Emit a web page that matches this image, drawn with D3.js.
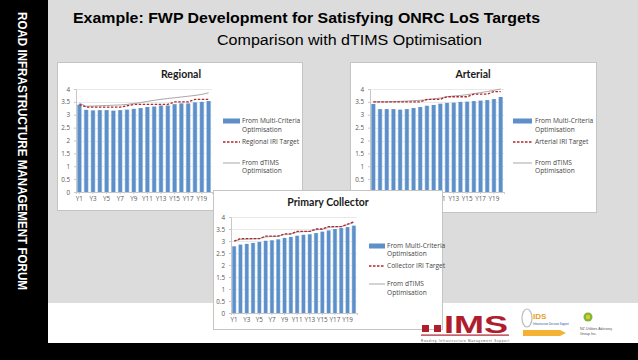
<!DOCTYPE html>
<html><head><meta charset="utf-8">
<script src="https://cdn.jsdelivr.net/npm/d3@7"></script>
<style>body{margin:0;padding:0;background:#000;}svg{display:block;}</style>
</head><body>
<script>
// ---- data ----
const years = d3.range(1, 21).map(i => "Y" + i);
const yTicks = [0, 0.5, 1, 1.5, 2, 2.5, 3, 3.5, 4];
const tickLabels = ["0", "0.5", "1", "1.5", "2", "2.5", "3", "3.5", "4"];

const regionalBars   = [3.39,3.19,3.17,3.18,3.18,3.16,3.18,3.2,3.23,3.26,3.3,3.32,3.36,3.36,3.41,3.44,3.44,3.48,3.5,3.53];
const regionalTarget = [3.4,3.3,3.3,3.3,3.3,3.3,3.3,3.35,3.4,3.4,3.4,3.4,3.4,3.4,3.5,3.5,3.5,3.6,3.6,3.6];
const regionalDtims  = [3.45,3.33,3.34,3.35,3.36,3.37,3.38,3.4,3.44,3.47,3.52,3.56,3.6,3.63,3.66,3.69,3.72,3.75,3.79,3.85];

const arterialBars   = [3.42,3.22,3.22,3.22,3.2,3.22,3.26,3.3,3.35,3.38,3.43,3.46,3.47,3.5,3.51,3.53,3.55,3.57,3.61,3.69];
const arterialTarget = [3.5,3.5,3.5,3.5,3.5,3.5,3.5,3.5,3.6,3.6,3.6,3.7,3.7,3.7,3.7,3.8,3.8,3.8,3.9,3.9];
const arterialDtims  = [3.5,3.5,3.5,3.51,3.52,3.53,3.55,3.56,3.58,3.62,3.65,3.7,3.73,3.75,3.78,3.82,3.86,3.9,3.95,4.0];

const collectorBars   = [2.78,2.85,2.88,2.92,2.96,3.01,3.03,3.07,3.13,3.17,3.22,3.26,3.28,3.33,3.39,3.44,3.5,3.54,3.58,3.64];
const collectorTarget = [3.0,3.1,3.1,3.1,3.1,3.2,3.2,3.2,3.3,3.3,3.4,3.4,3.4,3.5,3.5,3.6,3.6,3.6,3.7,3.8];
const collectorDtims  = [2.98,3.07,3.08,3.09,3.1,3.17,3.19,3.2,3.27,3.29,3.37,3.39,3.4,3.47,3.49,3.57,3.59,3.6,3.68,3.77];

const legendBars = "From Multi-Criteria";
const legendDtims = "From dTIMS";
const legendOpt = "Optimisation";

// ---- drawing ----
const W = 638, H = 360;
const svg = d3.select("body").append("svg").attr("width", W).attr("height", H);

// slide background
svg.append("rect").attr("x",0).attr("y",0).attr("width",W).attr("height",H).attr("fill","#000");
svg.append("rect").attr("x",48).attr("y",0).attr("width",W-48).attr("height",303).attr("fill","#dcdcdc");
svg.append("rect").attr("x",48).attr("y",303).attr("width",W-48).attr("height",40).attr("fill","#ffffff");

// vertical side text
svg.append("text")
  .attr("transform","translate(17.5,12) rotate(90)")
  .attr("font-family","'Liberation Sans Narrow','Liberation Sans',sans-serif")
  .attr("font-weight","bold").attr("font-size",12.5).attr("fill","#fff")
  .attr("textLength",278).attr("lengthAdjust","spacingAndGlyphs")
  .text("ROAD INFRASTRUCTURE MANAGEMENT FORUM");

// titles
svg.append("text").attr("x",73).attr("y",23)
  .attr("font-family","'Liberation Sans',Arial,sans-serif").attr("font-weight","bold")
  .attr("font-size",15).attr("fill","#000")
  .attr("textLength",467).attr("lengthAdjust","spacingAndGlyphs")
  .text("Example: FWP Development for Satisfying ONRC LoS Targets");
svg.append("text").attr("x",217).attr("y",45)
  .attr("font-family","'Liberation Sans',Arial,sans-serif")
  .attr("font-size",14).attr("fill","#000")
  .attr("textLength",265).attr("lengthAdjust","spacingAndGlyphs")
  .text("Comparison with dTIMS Optimisation");

// bar gradient
const defs = svg.append("defs");
const grad = defs.append("linearGradient").attr("id","barGrad").attr("x1","0%").attr("x2","100%").attr("y1","0%").attr("y2","0%");
grad.append("stop").attr("offset","0%").attr("stop-color","#b9d2ee");
grad.append("stop").attr("offset","25%").attr("stop-color","#5d8fc8");
grad.append("stop").attr("offset","75%").attr("stop-color","#5d8fc8");
grad.append("stop").attr("offset","100%").attr("stop-color","#b9d2ee");

function drawChart(cfg) {
  const g = svg.append("g");
  g.append("rect").attr("x",cfg.box[0]+0.5).attr("y",cfg.box[1]+0.5)
    .attr("width",cfg.box[2]-cfg.box[0]).attr("height",cfg.box[3]-cfg.box[1])
    .attr("fill","#fff").attr("stroke","#c4c4c4");
  g.append("text").attr("x",cfg.titleX).attr("y",cfg.titleY)
    .attr("text-anchor","middle").attr("font-family","Lato,'Open Sans',sans-serif")
    .attr("font-weight","bold").attr("font-size",10.5).attr("fill","#1a1a1a").text(cfg.title);

  const x = d3.scaleBand().domain(years).range([cfg.px0, cfg.px1]).paddingInner(0.3).paddingOuter(0.15);
  const y = d3.scaleLinear().domain([0,4]).range([cfg.py0, cfg.py4]);

  // gridlines
  g.append("g").selectAll("line").data(yTicks.slice(1)).join("line")
    .attr("x1",cfg.px0).attr("x2",cfg.px1).attr("y1",d=>Math.round(y(d))+0.5).attr("y2",d=>Math.round(y(d))+0.5)
    .attr("stroke","#e3e3e3").attr("stroke-width",0.8);

  // axes
  const yAxis = d3.axisLeft(y).tickValues(yTicks).tickFormat((d,i)=>tickLabels[i]).tickSize(2).tickPadding(4);
  const ya = g.append("g").attr("transform",`translate(${cfg.px0},0)`).call(yAxis);
  ya.select(".domain").attr("stroke","#c8c8c8");
  ya.selectAll(".tick line").attr("stroke","#c8c8c8");
  ya.selectAll("text").attr("font-family","'Open Sans',sans-serif").attr("font-size",6.3).attr("fill","#555");

  const xAxis = d3.axisBottom(x).tickValues(years.filter((d,i)=>i%2===0)).tickSize(2).tickPadding(3);
  const xa = g.append("g").attr("transform",`translate(0,${cfg.py0})`).call(xAxis);
  xa.select(".domain").attr("stroke","#c8c8c8");
  xa.selectAll(".tick line").attr("stroke","#c8c8c8");
  xa.selectAll("text").attr("font-family","'Open Sans',sans-serif").attr("font-size",6.3).attr("fill","#555");

  // bars
  g.append("g").selectAll("rect").data(cfg.bars).join("rect")
    .attr("x",(d,i)=>x(years[i])).attr("width",x.bandwidth())
    .attr("y",d=>y(d)).attr("height",d=>y(0)-y(d))
    .attr("fill","url(#barGrad)");

  const line = d3.line().x((d,i)=>x(years[i])+x.bandwidth()/2).y(d=>y(d));
  g.append("path").datum(cfg.dtims).attr("d",line).attr("fill","none")
    .attr("stroke","#a8a8a8").attr("stroke-width",1);
  g.append("path").datum(cfg.target).attr("d",line).attr("fill","none")
    .attr("stroke","#b3262b").attr("stroke-width",1.3).attr("stroke-dasharray","2.5,1.5");

  // legend
  const L = cfg.legend;
  const lf = t => t.attr("font-family","'Open Sans',sans-serif").attr("font-size",6.6).attr("fill","#444");
  g.append("rect").attr("x",L.sx0).attr("y",L.rows[0]-2.5).attr("width",L.sx1-L.sx0).attr("height",5).attr("fill","#5d8fc8");
  lf(g.append("text").attr("x",L.tx).attr("y",L.rows[0]+2.3).text(legendBars));
  lf(g.append("text").attr("x",L.tx).attr("y",L.rows[1]+2.3).text(legendOpt));
  g.append("line").attr("x1",L.sx0).attr("x2",L.sx1).attr("y1",L.rows[2]).attr("y2",L.rows[2])
    .attr("stroke","#b3262b").attr("stroke-width",1.3).attr("stroke-dasharray","2.5,1.5");
  lf(g.append("text").attr("x",L.tx).attr("y",L.rows[2]+2.3).text(cfg.targetLabel));
  g.append("line").attr("x1",L.sx0).attr("x2",L.sx1).attr("y1",L.rows[3]).attr("y2",L.rows[3])
    .attr("stroke","#a8a8a8").attr("stroke-width",1);
  lf(g.append("text").attr("x",L.tx).attr("y",L.rows[3]+2.3).text(legendDtims));
  lf(g.append("text").attr("x",L.tx).attr("y",L.rows[4]+2.3).text(legendOpt));
}

drawChart({
  title:"Regional", titleX:181, titleY:78, box:[57,62,302,210],
  px0:76, px1:212, py0:192, py4:89,
  bars:regionalBars, target:regionalTarget, dtims:regionalDtims, targetLabel:"Regional IRI Target",
  legend:{sx0:223, sx1:240, tx:242, rows:[121,130,142,163,171]}
});
drawChart({
  title:"Arterial", titleX:473, titleY:78, box:[350,62,596,212],
  px0:370, px1:504, py0:192, py4:89,
  bars:arterialBars, target:arterialTarget, dtims:arterialDtims, targetLabel:"Arterial IRI Target",
  legend:{sx0:513, sx1:532, tx:535, rows:[121,130,142,163,171]}
});
drawChart({
  title:"Primary Collector", titleX:328, titleY:206, box:[213,190,442,329],
  px0:231, px1:357, py0:313, py4:217,
  bars:collectorBars, target:collectorTarget, dtims:collectorDtims, targetLabel:"Collector IRI Target",
  legend:{sx0:369, sx1:385, tx:387, rows:[246,254,266,284,293]}
});

// logos (approximate)
const lg = svg.append("g");
lg.append("rect").attr("x",422).attr("y",325).attr("width",7).attr("height",7).attr("fill","#b01e2d");
lg.append("rect").attr("x",434).attr("y",325).attr("width",7).attr("height",7).attr("fill","#b01e2d");
lg.append("text").attr("x",444).attr("y",332.5).attr("font-family","'Liberation Sans',Arial,sans-serif")
  .attr("font-weight","bold").attr("font-size",24).attr("fill","#b01e2d")
  .attr("textLength",64).attr("lengthAdjust","spacingAndGlyphs").text("IMS");
lg.append("rect").attr("x",421).attr("y",334.5).attr("width",88).attr("height",1.2).attr("fill","#b01e2d");
lg.append("text").attr("x",421).attr("y",341.5).attr("font-family","'Liberation Sans',sans-serif")
  .attr("font-size",3).attr("fill","#555").attr("textLength",88).text("Roading Infrastructure Management Support");
// IDS
lg.append("ellipse").attr("cx",527).attr("cy",318).attr("rx",5).attr("ry",9).attr("fill","none").attr("stroke","#bbb").attr("stroke-width",1.2);
lg.append("text").attr("x",533).attr("y",319).attr("font-family","'Liberation Sans',sans-serif").attr("font-weight","bold")
  .attr("font-size",8).attr("fill","#e8a020").text("IDS");
lg.append("text").attr("x",533).attr("y",325).attr("font-family","'Liberation Sans',sans-serif")
  .attr("font-size",2.6).attr("fill","#2c4e9a").text("Infrastructure Decision Support");
lg.append("path").attr("d","M523,330 L560,330 L566,333 L560,336 L523,336 Z").attr("fill","#f3b234");
// NZ Utilities
lg.append("circle").attr("cx",588).attr("cy",317).attr("r",4.5).attr("fill","#7db83a");
lg.append("circle").attr("cx",588).attr("cy",317).attr("r",2.2).attr("fill","#e6c530");
lg.append("text").attr("x",580).attr("y",330).attr("font-family","'Liberation Sans',sans-serif")
  .attr("font-size",3.6).attr("fill","#555").text("NZ Utilities Advisory");
lg.append("text").attr("x",580).attr("y",335).attr("font-family","'Liberation Sans',sans-serif")
  .attr("font-size",3.6).attr("fill","#555").text("Group Inc.");
</script>
</body></html>
